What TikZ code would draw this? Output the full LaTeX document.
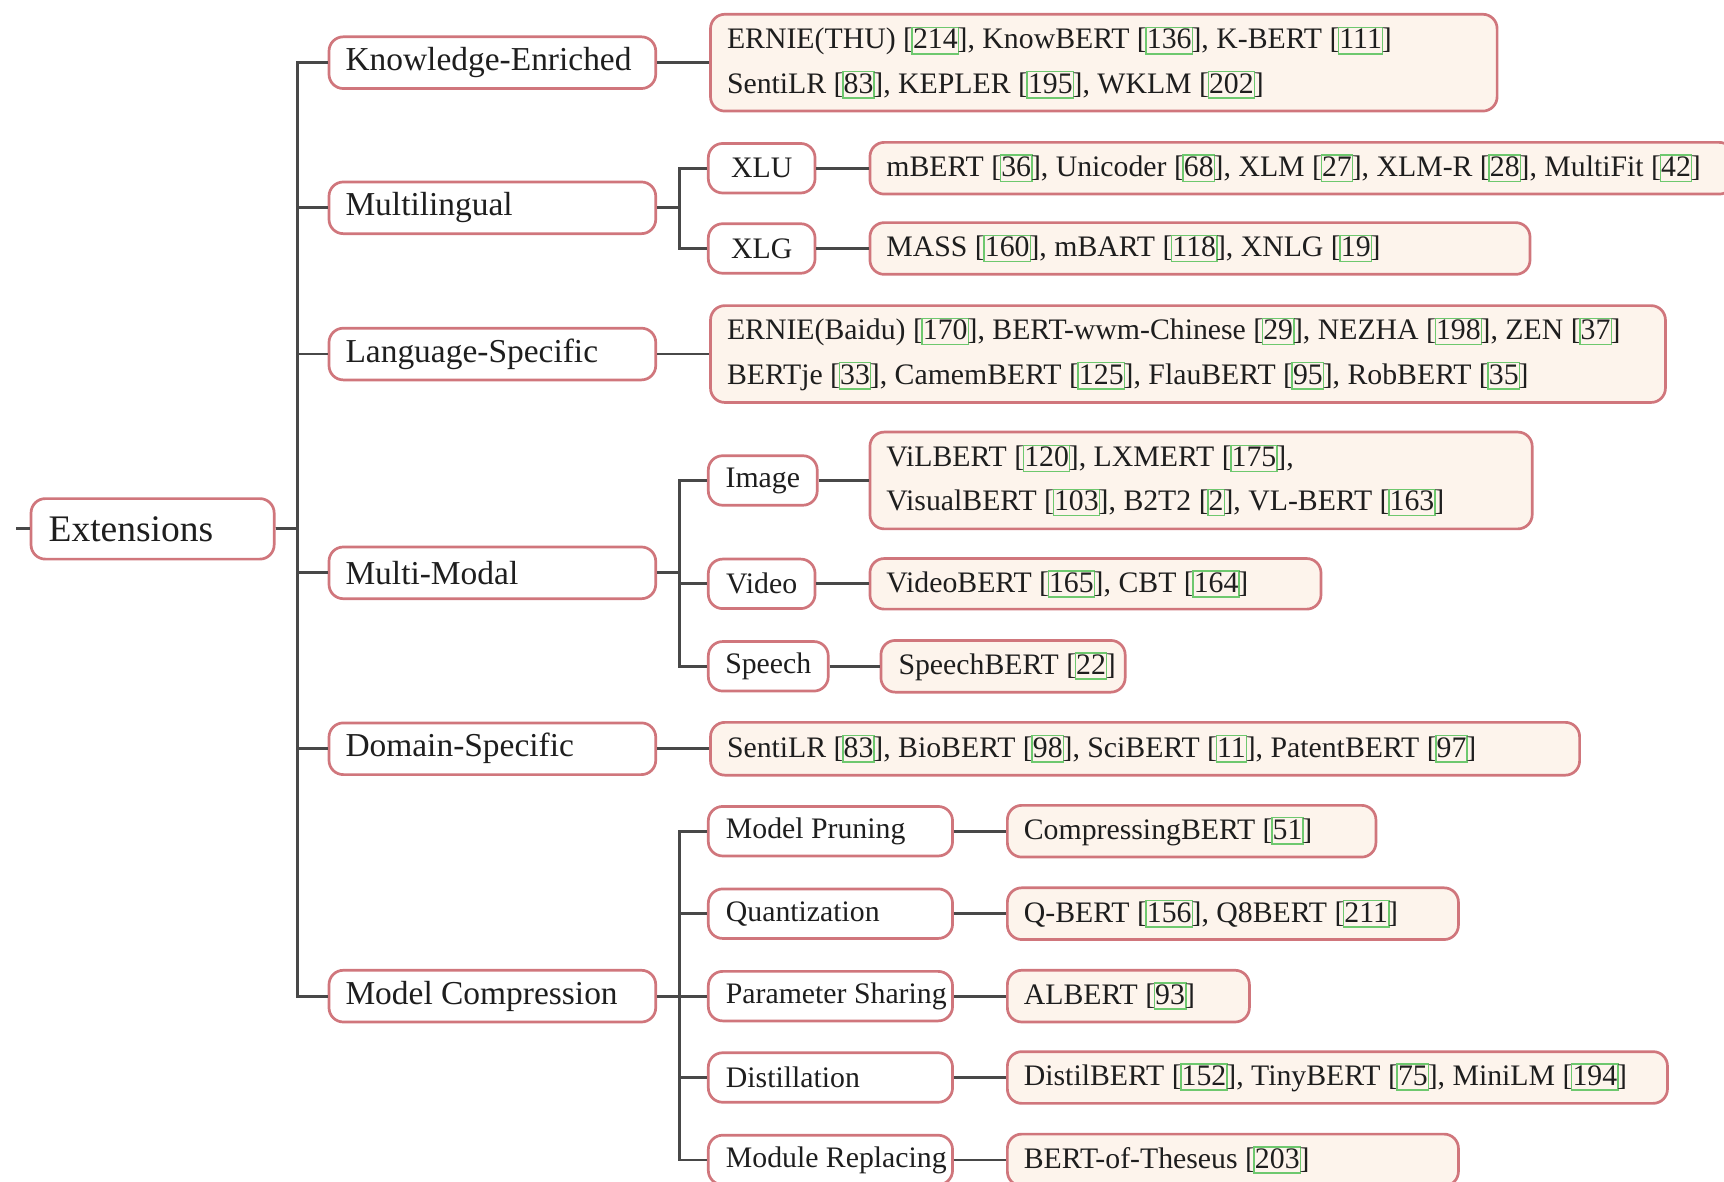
\documentclass[tikz,border=0pt]{standalone}
\usepackage{fontspec}
\setmainfont{Liberation Serif}
\definecolor{boxred}{RGB}{208,118,124}
\definecolor{leaffill}{RGB}{253,244,236}
\definecolor{linec}{RGB}{72,72,72}
\definecolor{citeg}{RGB}{110,200,110}
\definecolor{txt}{RGB}{30,30,30}
\newcommand{\ct}[1]{[\rlap{\kern-0.4pt\color{citeg}\setlength{\fboxsep}{0pt}\setlength{\fboxrule}{0.4pt}\fbox{\vphantom{[]}\phantom{#1}}}#1]}
\newcommand{\bx}[2]{\makebox[#1cm][l]{#2}}
\tikzset{
  base/.style={draw=boxred, line width=0.7pt, rounded corners=0.13cm, inner xsep=0.15cm, inner ysep=0pt, anchor=west, text=txt},
  rootbox/.style={base, fill=white, font=\fontsize{9.7}{12}\selectfont, minimum height=0.55cm, inner xsep=0.16cm},
  catbox/.style={base, fill=white, font=\fontsize{8.65}{11}\selectfont, minimum height=0.47cm},
  subbox/.style={base, fill=white, font=\fontsize{7.7}{10}\selectfont, minimum height=0.45cm},
  csub/.style={subbox, inner xsep=0pt},
  leafbox/.style={base, fill=leaffill, font=\fontsize{7.7}{11.4}\selectfont, minimum height=0.47cm},
  twoline/.style={leafbox, align=left, minimum height=0.88cm},
  conn/.style={draw=linec, line width=0.75pt},
}
\begin{document}
\begin{tikzpicture}[x=0.01cm, y=-0.01cm]
\useasboundingbox (0,0) rectangle (1568,1075);

% root
\node[rootbox] (ext) at (27,481) {\bx{1.89}{Extensions}};
\coordinate (stub) at (15,481);

% categories
\node[catbox] (ke) at (298,57)  {\bx{2.67}{Knowledge-Enriched}};
\node[catbox] (ml) at (298,189) {\bx{2.67}{Multilingual}};
\node[catbox] (ls) at (298,322) {\bx{2.67}{Language-Specific}};
\node[catbox] (mm) at (298,521) {\bx{2.67}{Multi-Modal}};
\node[catbox] (ds) at (298,681) {\bx{2.67}{Domain-Specific}};
\node[catbox] (mc) at (298,906) {\bx{2.67}{Model Compression}};

% direct leaves
\node[twoline] (keL) at (645,57) {\bx{6.85}{ERNIE(THU) \ct{214}, KnowBERT \ct{136}, K-BERT \ct{111}}\\\bx{6.85}{SentiLR \ct{83}, KEPLER \ct{195}, WKLM \ct{202}}};
\node[twoline] (lsL) at (645,322) {\bx{8.38}{ERNIE(Baidu) \ct{170}, BERT-wwm-Chinese \ct{29}, NEZHA \ct{198}, ZEN \ct{37}}\\\bx{8.38}{BERTje \ct{33}, CamemBERT \ct{125}, FlauBERT \ct{95}, RobBERT \ct{35}}};
\node[leafbox, minimum height=0.48cm] (dsL) at (645,681) {\bx{7.60}{SentiLR \ct{83}, BioBERT \ct{98}, SciBERT \ct{11}, PatentBERT \ct{97}}};

% multilingual
\node[csub, minimum width=0.97cm] (xlu) at (643,153) {XLU};
\node[csub, minimum width=0.97cm] (xlg) at (643,226) {XLG};
\node[leafbox] (xluL) at (790,153) {\bx{7.55}{mBERT \ct{36}, Unicoder \ct{68}, XLM \ct{27}, XLM-R \ct{28}, MultiFit \ct{42}}};
\node[leafbox] (xlgL) at (790,226) {\bx{5.70}{MASS \ct{160}, mBART \ct{118}, XNLG \ct{19}}};

% multi-modal
\node[csub, minimum width=0.99cm] (img) at (643,437) {Image};
\node[csub, minimum width=0.97cm] (vid) at (643,531) {Video};
\node[csub, minimum width=1.09cm] (spc) at (643,606) {Speech};
\node[twoline] (imgL) at (790,437) {\bx{5.72}{ViLBERT \ct{120}, LXMERT \ct{175},}\\\bx{5.72}{VisualBERT \ct{103}, B2T2 \ct{2}, VL-BERT \ct{163}}};
\node[leafbox, minimum height=0.46cm] (vidL) at (790,531) {\bx{3.80}{VideoBERT \ct{165}, CBT \ct{164}}};
\node[leafbox, inner xsep=0.16cm] (spcL) at (800,606) {\bx{1.90}{SpeechBERT \ct{22}}};

% model compression
\node[subbox, inner xsep=0.16cm] (mp) at (643,756)  {\bx{1.90}{Model Pruning}};
\node[subbox, inner xsep=0.16cm] (qz) at (643,831)  {\bx{1.90}{Quantization}};
\node[subbox, inner xsep=0.16cm] (ps) at (643,906)  {\bx{1.90}{Parameter Sharing}};
\node[subbox, inner xsep=0.16cm] (dl) at (643,980)  {\bx{1.90}{Distillation}};
\node[subbox, inner xsep=0.16cm] (mr) at (643,1055) {\bx{1.90}{Module Replacing}};
\node[leafbox] (mpL) at (915,756)  {\bx{3.05}{CompressingBERT \ct{51}}};
\node[leafbox] (qzL) at (915,831)  {\bx{3.80}{Q-BERT \ct{156}, Q8BERT \ct{211}}};
\node[leafbox] (psL) at (915,906)  {\bx{1.90}{ALBERT \ct{93}}};
\node[leafbox] (dlL) at (915,980)  {\bx{5.70}{DistilBERT \ct{152}, TinyBERT \ct{75}, MiniLM \ct{194}}};
\node[leafbox] (mrL) at (915,1055) {\bx{3.80}{BERT-of-Theseus \ct{203}}};

% connectors
\draw[conn] (stub) -- (ext.west);
\foreach \c in {ke,ml,ls,mm,ds,mc} \draw[conn] (ext.east) -- ++(20,0) |- (\c.west);
\draw[conn] (ke.east) -- (keL.west);
\draw[conn] (ls.east) -- (lsL.west);
\draw[conn] (ds.east) -- (dsL.west);
\foreach \c in {xlu,xlg} \draw[conn] (ml.east) -- ++(20,0) |- (\c.west);
\draw[conn] (xlu.east) -- (xluL.west);
\draw[conn] (xlg.east) -- (xlgL.west);
\foreach \c in {img,vid,spc} \draw[conn] (mm.east) -- ++(20,0) |- (\c.west);
\draw[conn] (img.east) -- (imgL.west);
\draw[conn] (vid.east) -- (vidL.west);
\draw[conn] (spc.east) -- (spcL.west);
\foreach \c in {mp,qz,ps,dl,mr} \draw[conn] (mc.east) -- ++(20,0) |- (\c.west);
\draw[conn] (mp.east) -- (mpL.west);
\draw[conn] (qz.east) -- (qzL.west);
\draw[conn] (ps.east) -- (psL.west);
\draw[conn] (dl.east) -- (dlL.west);
\draw[conn] (mr.east) -- (mrL.west);
\end{tikzpicture}
\end{document}
